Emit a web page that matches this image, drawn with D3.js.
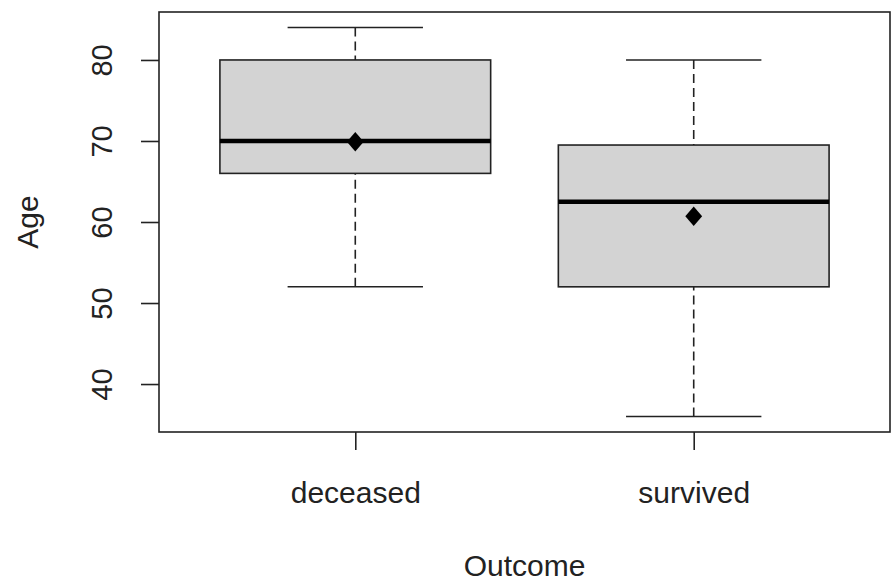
<!DOCTYPE html>
<html>
<head>
<meta charset="utf-8">
<script src="https://cdn.jsdelivr.net/npm/d3@7"></script>
<style>
    body { margin: 0; background: #fff; }
    svg text { font-family: "Liberation Sans", Arial, sans-serif; fill: #222; }
</style>
</head>
<body>
<div id="app"></div>
<script>
"use strict";

const categories = ["deceased", "survived"];
const lowerWhisker = [52, 36];
const q1 = [66, 52];
const medians = [70, 62.5];
const q3 = [80, 69.5];
const upperWhisker = [84, 80];
const means = [69.9, 60.7];
const yTicks = [40, 50, 60, 70, 80];

const width = 893, height = 587;
const plot = { left: 159, right: 890, top: 12, bottom: 432 };

function drawChart() {
    const svg = d3.select("#app").append("svg")
        .attr("width", width)
        .attr("height", height);

    // R style: boxes at 1..n, xlim n +/- 0.5 then 4% padding
    const x = d3.scaleLinear().domain([0.42, 2.58]).range([plot.left, plot.right]);
    const y = d3.scaleLinear().domain([34.08, 85.92]).range([plot.bottom, plot.top]);

    const boxes = categories.map((name, i) => ({
        name, pos: i + 1,
        lo: lowerWhisker[i], q1: q1[i], med: medians[i], q3: q3[i], hi: upperWhisker[i], mean: means[i]
    }));

    const g = svg.selectAll("g.box").data(boxes).enter().append("g").attr("class", "box");

    // whiskers
    g.append("line")
        .attr("x1", d => x(d.pos)).attr("x2", d => x(d.pos))
        .attr("y1", d => y(d.lo)).attr("y2", d => y(d.q1))
        .attr("stroke", "#222").attr("stroke-width", 1.6).attr("stroke-dasharray", "9,5");
    g.append("line")
        .attr("x1", d => x(d.pos)).attr("x2", d => x(d.pos))
        .attr("y1", d => y(d.hi)).attr("y2", d => y(d.q3))
        .attr("stroke", "#222").attr("stroke-width", 1.6).attr("stroke-dasharray", "9,5");

    // staples
    for (let key of ["lo", "hi"]) {
        g.append("line")
            .attr("x1", d => x(d.pos - 0.2)).attr("x2", d => x(d.pos + 0.2))
            .attr("y1", d => y(d[key])).attr("y2", d => y(d[key]))
            .attr("stroke", "#222").attr("stroke-width", 1.6);
    }

    g.append("rect")
        .attr("x", d => x(d.pos - 0.4))
        .attr("width", d => x(d.pos + 0.4) - x(d.pos - 0.4))
        .attr("y", d => y(d.q3))
        .attr("height", d => y(d.q1) - y(d.q3))
        .attr("fill", "#d3d3d3")
        .attr("stroke", "#222").attr("stroke-width", 1.6);

    g.append("line")
        .attr("x1", d => x(d.pos - 0.4)).attr("x2", d => x(d.pos + 0.4))
        .attr("y1", d => y(d.med)).attr("y2", d => y(d.med))
        .attr("stroke", "#000").attr("stroke-width", 4.5);

    g.append("path")
        .attr("d", d3.symbol().type(d3.symbolDiamond2).size(200))
        .attr("transform", d => `translate(${x(d.pos)},${y(d.mean)}) scale(0.95,1.1)`)
        .attr("fill", "#000");

    // frame
    svg.append("rect")
        .attr("x", plot.left).attr("y", plot.top)
        .attr("width", plot.right - plot.left).attr("height", plot.bottom - plot.top)
        .attr("fill", "none").attr("stroke", "#222").attr("stroke-width", 1.6);

    // y axis, labels turned like R's las=0
    const yAxis = svg.append("g")
        .attr("transform", `translate(${plot.left},0)`)
        .call(d3.axisLeft(y).tickValues(yTicks).tickSize(18).tickPadding(0));
    yAxis.select(".domain").remove();
    yAxis.selectAll(".tick line").attr("stroke", "#222").attr("stroke-width", 1.6);
    yAxis.selectAll(".tick text")
        .attr("x", 0).attr("y", -47).attr("dy", 0)
        .attr("transform", "rotate(-90)")
        .attr("text-anchor", "middle")
        .style("font-size", "29px")
        .attr("fill", "#222");

    // x axis
    const xAxis = svg.append("g")
        .attr("transform", `translate(0,${plot.bottom})`)
        .call(d3.axisBottom(x).tickValues(boxes.map(d => d.pos)).tickSize(18).tickPadding(0)
            .tickFormat(v => categories[v - 1]));
    xAxis.select(".domain").remove();
    xAxis.selectAll(".tick line").attr("stroke", "#222").attr("stroke-width", 1.6);
    xAxis.selectAll(".tick text")
        .attr("y", 71).attr("dy", 0)
        .style("font-size", "30px")
        .attr("fill", "#222");

    svg.append("text")
        .attr("x", (plot.left + plot.right) / 2).attr("y", 576)
        .attr("text-anchor", "middle")
        .style("font-size", "30px")
        .text("Outcome");

    svg.append("text")
        .attr("transform", `translate(38,${(plot.top + plot.bottom) / 2}) rotate(-90)`)
        .attr("text-anchor", "middle")
        .style("font-size", "30px")
        .text("Age");
}

drawChart();
</script>
</body>
</html>
